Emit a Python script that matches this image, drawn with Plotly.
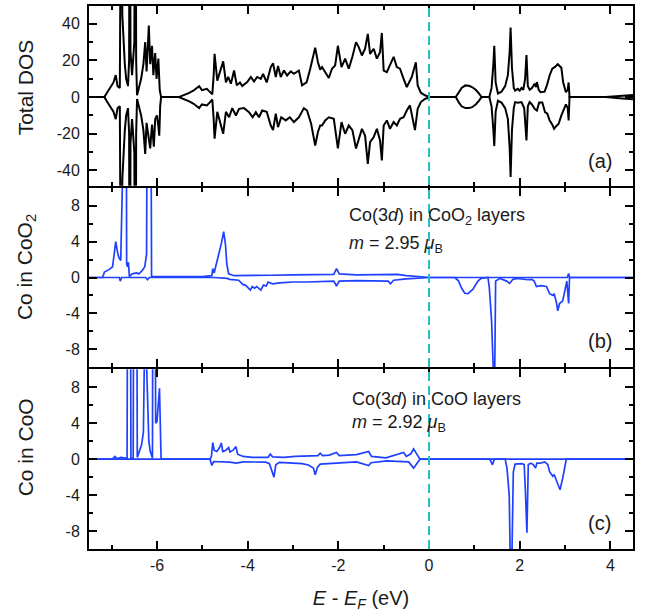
import plotly.graph_objects as go
from plotly.subplots import make_subplots

# ---------------- Total DOS (panel a) ----------------
tot_up_e = [-7.5, -7.16, -7.10, -7.03, -6.96, -6.91, -6.87, -6.82, -6.795, -6.78, -6.765, -6.74, -6.71,
            -6.68, -6.64, -6.615, -6.60, -6.585, -6.55, -6.50, -6.475, -6.46, -6.44, -6.40, -6.35, -6.30,
            -6.26, -6.23, -6.18, -6.15, -6.11, -6.08, -6.04, -6.01, -5.97, -5.94, -5.91, -5.52, -5.40,
            -5.30, -5.20, -5.12, -5.07, -5.01, -4.95, -4.90, -4.84, -4.78, -4.75, -4.73, -4.67, -4.59,
            -4.54, -4.48, -4.43, -4.37, -4.30, -4.24, -4.17, -4.12, -4.01, -3.93, -3.86, -3.79, -3.71,
            -3.66, -3.58, -3.49, -3.44, -3.38, -3.33, -3.27, -3.20, -3.13, -3.05, -2.98, -2.87, -2.80,
            -2.70, -2.62, -2.51, -2.45, -2.40, -2.36, -2.29, -2.21, -2.14, -2.07, -2.01, -1.93, -1.85,
            -1.77, -1.69, -1.61, -1.55, -1.48, -1.41, -1.35, -1.30, -1.22, -1.15, -1.08, -1.04, -1.00,
            -0.93, -0.86, -0.78, -0.71, -0.64, -0.56, -0.49, -0.38, -0.29, -0.25, -0.18, -0.09, 0.02,
            0.59, 0.66, 0.72, 0.80, 0.88, 0.95, 1.03, 1.10, 1.16, 1.33, 1.38, 1.42, 1.44, 1.47, 1.52,
            1.60, 1.68, 1.74, 1.78, 1.80, 1.83, 1.87, 1.90, 1.96, 2.00, 2.04, 2.08, 2.12, 2.15, 2.18,
            2.22, 2.27, 2.33, 2.36, 2.38, 2.42, 2.46, 2.55, 2.60, 2.66, 2.72, 2.78, 2.84, 2.88, 2.92,
            2.96, 3.02, 3.06, 3.08, 3.10, 3.90, 4.20, 4.50]
tot_up = [0, 0, 2.5, 5, 8, 12, 6, 5, 40, 200, 45, 30, 18,
          10, 6, 20, 200, 25, 12, 30, 200, 20, 1, 5, 10, 18,
          30, 14, 39, 18, 28, 12, 24, 10, 21, 4, 0, 0, 1.0,
          2.2, 3.5, 5.0, 6.0, 3.8, 4.2, 4.5, 3.0, 1.5, 12, 23.6, 9, 16,
          19.5, 8, 11, 7.3, 14.5, 6.4, 8, 6, 8.2, 11, 8.5, 11, 10,
          12.7, 8, 16.4, 18.5, 11, 17, 11, 14.5, 11.8, 14, 12.7, 14.5, 6.4,
          8, 15.5, 27, 19, 15, 16.4, 13.6, 10.4, 15.5, 17.3, 28, 16.4, 21,
          15.5, 22, 30, 27.3, 22.7, 26.4, 34.5, 23.6, 26.4, 21, 24.5, 35, 14.5,
          13.6, 17.3, 22, 16.4, 15.5, 10, 5.5, 11, 19, 6.4, 2.4, 1, 0,
          0, 3, 5, 6.4, 6.2, 5.5, 4, 2, 0, 0, 5, 18, 28, 8, 2,
          3, 6, 12, 25, 38, 16, 5, 3.6, 4.5, 3.5, 5, 4, 10, 23, 6,
          4, 5, 7.3, 5.5, 8.2, 4, 2.7, 3, 6.4, 11.8, 15.5, 16.5, 18, 17, 16,
          8, 2.7, 4, 8, 0, 0, 0.6, 1.2]

tot_dn_e = [-7.5, -7.16, -7.10, -7.03, -6.96, -6.91, -6.87, -6.82, -6.795, -6.78, -6.765, -6.74, -6.71,
            -6.68, -6.64, -6.615, -6.60, -6.585, -6.55, -6.50, -6.475, -6.46, -6.44, -6.40, -6.35, -6.30,
            -6.26, -6.23, -6.18, -6.15, -6.11, -6.07, -6.04, -6.00, -5.97, -5.95, -5.93, -5.91, -5.52,
            -5.40, -5.30, -5.20, -5.12, -5.07, -5.01, -4.95, -4.90, -4.84, -4.78, -4.75, -4.73, -4.67,
            -4.59, -4.54, -4.48, -4.41, -4.34, -4.26, -4.19, -4.08, -3.97, -3.89, -3.82, -3.75, -3.68,
            -3.58, -3.49, -3.44, -3.38, -3.33, -3.26, -3.16, -3.07, -2.98, -2.87, -2.76, -2.69, -2.60,
            -2.51, -2.45, -2.40, -2.36, -2.29, -2.21, -2.10, -2.01, -1.93, -1.85, -1.77, -1.69, -1.61,
            -1.55, -1.48, -1.41, -1.35, -1.30, -1.22, -1.15, -1.08, -1.04, -1.00, -0.93, -0.86, -0.78,
            -0.71, -0.64, -0.56, -0.49, -0.42, -0.31, -0.25, -0.18, -0.09, 0.02,
            0.59, 0.66, 0.72, 0.80, 0.88, 0.95, 1.03, 1.10, 1.16, 1.33, 1.38, 1.42, 1.44, 1.47, 1.52,
            1.60, 1.68, 1.74, 1.78, 1.80, 1.83, 1.87, 1.90, 1.96, 2.04, 2.10, 2.13, 2.15, 2.18, 2.22,
            2.27, 2.33, 2.38, 2.43, 2.50, 2.56, 2.61, 2.66, 2.72, 2.76, 2.80, 2.86, 2.92, 2.97, 3.02,
            3.06, 3.08, 3.10, 3.90, 4.20, 4.50]
tot_dn = [0, 0, -2.5, -5, -8, -12, -6, -5, -40, -200, -45, -30, -18,
          -10, -6, -20, -200, -25, -12, -30, -200, -20, -1, -5, -10, -18,
          -31, -14, -25, -28, -15, -27, -12, -10, -16, -21, -5, 0, 0,
          -1, -2.2, -3.5, -5, -6, -4, -4.3, -4.5, -3, -1.3, -12, -22.7, -8,
          -15.5, -20, -8, -11, -6, -10, -6.4, -6, -8.2, -11, -8.2, -11, -7.3,
          -8, -15.5, -18, -9, -16.4, -11, -12.7, -11, -13.6, -11, -6, -7.3, -14.5,
          -26.4, -19, -15.5, -15.5, -12.7, -11, -11.8, -28, -13.6, -20, -15.5, -18, -28,
          -22.7, -17.3, -21, -36.4, -24.5, -21.8, -17.3, -23.6, -34.5, -15.5, -12.7, -17.3, -13.6,
          -15.5, -11.8, -11, -7.3, -4.5, -18, -6.4, -2.7, -1, 0,
          0, -3, -5, -6, -6, -5.5, -4, -2, 0, 0, -5, -18, -26.7, -8, -2,
          -3, -6, -12, -28, -43.6, -18, -6, -2.7, -3, -2.7, -6, -15, -23.6, -5, -2.7,
          -4, -6.4, -7.3, -3, -3, -8.2, -9, -12.7, -15, -17.3, -16, -14.5, -10, -6.4, -4,
          -6, -12.7, 0, 0, -0.6, -1.2]

# ---------------- Co(3d) in CoO2 layers (panel b) ----------------
coo2_up_e = [-7.5, -7.2, -7.16, -7.05, -6.98, -6.94, -6.91, -6.87, -6.84, -6.80, -6.79, -6.74, -6.68,
             -6.67, -6.65, -6.63, -6.61, -6.55, -6.45, -6.40, -6.32, -6.27, -6.23, -6.21, -6.14, -6.12,
             -5.0, -4.79, -4.77, -4.74, -4.68, -4.62, -4.58, -4.53, -4.49, -4.46, -4.42, -4.3, -4.0,
             -3.5, -3.0, -2.5, -2.10, -2.04, -1.98, -1.6, -1.3, -0.9, -0.85, -0.7, -0.5, -0.2, 0.02,
             3.05, 3.08, 3.10, 4.5]
coo2_up = [0, 0, 0.6, 0.9, 1.2, 2.6, 4.0, 2.8, 2.2, 1.9, 30, 30, 30,
           1.5, 1.2, 1.7, 0.1, 0.4, 0.5, 0.4, 0.8, 1.2, 2.6, 30, 30, 0.1,
           0.1, 0.2, 1.0, 0.5, 1.7, 3.0, 3.8, 5.1, 3.7, 1.5, 0.4, 0.2, 0.2,
           0.25, 0.3, 0.35, 0.35, 1.0, 0.4, 0.3, 0.3, 0.35, 0.3, 0.35, 0.2, 0.05, 0,
           0, 0.45, 0, 0]

coo2_dn_e = [-7.5, -6.83, -6.81, -6.78, -6.25, -6.21, -6.17, -5.2, -4.75, -4.45, -4.40, -4.2, -4.1,
             -4.05, -3.99, -3.94, -3.90, -3.85, -3.80, -3.75, -3.71, -3.65, -3.59, -3.55, -3.45, -3.30,
             -3.0, -2.7, -2.4, -2.10, -2.04, -1.98, -1.6, -1.3, -0.9, -0.85, -0.78, -0.5, -0.2, 0.02,
             0.57, 0.65, 0.72, 0.79, 0.86, 0.97, 1.08, 1.15, 1.30, 1.33, 1.38, 1.42, 1.45, 1.47, 1.57,
             1.71, 1.78, 1.85, 1.95, 2.18, 2.27, 2.32, 2.37, 2.47, 2.59, 2.66, 2.73, 2.76, 2.81, 2.84,
             2.88, 2.95, 3.04, 3.08, 3.10, 4.5]
coo2_dn = [0, 0, -0.4, 0, 0, -0.25, 0, -0.05, 0, -0.1, -0.2, -0.3, -0.8,
           -0.85, -1.2, -1.4, -1.0, -1.2, -1.0, -1.2, -1.4, -0.85, -0.95, -0.5, -0.7, -0.6,
           -0.5, -0.5, -0.45, -0.4, -0.95, -0.4, -0.35, -0.37, -0.4, -0.7, -0.3, -0.15, -0.05, 0,
           0, -0.37, -1.2, -1.76, -1.8, -1.3, -0.4, -0.1, 0, -1.1, -4.8, -10.5, -10.5, -0.4, -0.1,
           -0.4, -0.66, -0.2, -0.1, -0.25, -0.2, -0.4, -1.0, -0.9, -1.0, -1.8, -2.0, -1.8, -2.75, -3.7,
           -2.9, -2.6, -0.4, -2.9, 0, 0]

# ---------------- Co(3d) in CoO layers (panel c) ----------------
coo_up_e = [-7.5, -6.98, -6.93, -6.88, -6.80, -6.70, -6.66, -6.645, -6.59, -6.575, -6.525, -6.51, -6.45,
            -6.435, -6.40, -6.34, -6.30, -6.28, -6.255, -6.23, -6.20, -6.18, -6.15, -6.12, -6.10, -6.09,
            -6.045, -6.03, -6.00, -5.945, -5.925, -5.91, -4.83, -4.80, -4.77, -4.74, -4.68, -4.62, -4.58,
            -4.55, -4.48, -4.42, -4.39, -4.32, -4.26, -4.22, -4.1, -3.9, -3.55, -3.50, -3.45, -3.2,
            -2.95, -2.66, -2.45, -2.40, -2.35, -2.2, -2.04, -1.98, -1.6, -1.33, -1.27, -0.95, -0.56,
            -0.50, -0.40, -0.34, -0.28, -0.2, 4.5]
coo_up = [0, 0, 0.3, 0.05, 0.2, 0.1, 0.1, 30, 30, 0.1, 0.1, 30, 30,
          0.2, 0.8, 1.6, 3, 10.5, 20, 10.5, 3, 2.0, 0.9, 0.3, 0.1, 30,
          30, 4.0, 4.2, 7.9, 0.1, 0, 0, 0.3, 1.85, 1.0, 0.85, 1.3, 1.8,
          0.85, 1.0, 1.3, 0.8, 1.0, 1.4, 0.55, 0.3, 0.2, 0.2, 0.55, 0.25, 0.2,
          0.3, 0.35, 0.4, 0.66, 0.4, 0.45, 0.75, 0.4, 0.5, 0.85, 0.3, 0.15, 0.75,
          0.3, 0.6, 1.15, 0.6, 0, 0]

coo_dn_e = [-7.5, -4.83, -4.79, -4.75, -4.40, -4.25, -4.1, -3.6, -3.52, -3.47, -3.42, -3.38, -3.3,
            -3.0, -2.80, -2.66, -2.55, -2.51, -2.46, -2.40, -2.2, -1.96, -1.6, -1.33, -1.28, -0.93,
            -0.6, -0.45, -0.34, -0.25, -0.2, 1.34, 1.40, 1.44, 1.68, 1.72, 1.77, 1.79, 1.83, 1.86,
            1.90, 2.05, 2.10, 2.13, 2.16, 2.19, 2.25, 2.30, 2.35, 2.38, 2.45, 2.55, 2.62, 2.66, 2.73,
            2.76, 2.84, 2.89, 2.95, 3.01, 3.03, 4.5]
coo_dn = [0, 0, -0.7, -0.26, -0.33, -0.44, -0.3, -0.33, -0.5, -1.4, -2.0, -0.63, -0.35,
          -0.45, -0.5, -0.65, -1.0, -1.74, -0.9, -0.55, -0.5, -0.45, -0.3, -0.7, -0.4, -0.2,
          -0.25, -0.3, -1.0, -0.3, 0, 0, -0.63, 0, 0, -1.0, -4.0, -10.5, -10.5, -1.4,
          -0.55, -0.5, -0.6, -4.0, -8.2, -0.6, -0.45, -0.6, -1.0, -0.45, -0.45, -0.3, -0.6, -1.4, -1.9,
          -1.7, -2.7, -3.4, -2.1, -0.2, 0, 0]

# axis tick values (labels use a plain hyphen for negatives)
e_ticks = [-6, -4, -2, 0, 2, 4]
tot_ticks = [-40, -20, 0, 20, 40]
pdos_ticks = [-8, -4, 0, 4, 8]


def labels(vals):
    return [str(v) for v in vals]


# ---------------- styling ----------------
FONT = "Liberation Sans, Arial, Helvetica, sans-serif"
INK = "#1a1a1a"
BLUE = "#2040ff"
BLACK = "#000000"
FERMI = "#22bfc4"
LW = 2.0

# a gap of one line width lets the frame lines of neighbouring panels coincide
fig = make_subplots(rows=3, cols=1, shared_xaxes=True, vertical_spacing=LW / 545)

curves = [
    (1, tot_up_e, tot_up, BLACK, 2.0),
    (1, tot_dn_e, tot_dn, BLACK, 2.0),
    (2, coo2_up_e, coo2_up, BLUE, 1.7),
    (2, coo2_dn_e, coo2_dn, BLUE, 1.7),
    (3, coo_up_e, coo_up, BLUE, 1.7),
    (3, coo_dn_e, coo_dn, BLUE, 1.7),
]
for row, e, d, col, w in curves:
    fig.add_trace(go.Scatter(x=e, y=d, mode="lines", line=dict(color=col, width=w),
                             showlegend=False, hoverinfo="skip"), row=row, col=1)

axis_common = dict(showline=True, linecolor=BLACK, linewidth=LW, mirror="ticks",
                   ticks="inside", ticklen=8, tickwidth=1.5, tickcolor=BLACK,
                   showgrid=False, zeroline=False,
                   tickfont=dict(family=FONT, size=16, color=INK))

for r in (1, 2, 3):
    fig.update_xaxes(range=[-7.5, 4.5], tickvals=e_ticks, ticktext=labels(e_ticks),
                     minor=dict(ticks="inside", tickvals=[-7, -5, -3, -1, 1, 3], ticklen=4,
                                tickwidth=1.5, tickcolor=BLACK),
                     showticklabels=(r == 3), ticklabelstandoff=1, row=r, col=1, **axis_common)

fig.update_yaxes(range=[-48.3, 49.7], tickvals=tot_ticks, ticktext=labels(tot_ticks),
                 minor=dict(ticks="inside", tickvals=[-30, -10, 10, 30], ticklen=4, tickwidth=1.5,
                            tickcolor=BLACK),
                 ticklabelstandoff=4, row=1, col=1, **axis_common)
for r in (2, 3):
    fig.update_yaxes(range=[-10, 10], tickvals=pdos_ticks, ticktext=labels(pdos_ticks),
                     minor=dict(ticks="inside", tickvals=[-6, -2, 2, 6], ticklen=4, tickwidth=1.5,
                                tickcolor=BLACK),
                     ticklabelstandoff=4, row=r, col=1, **axis_common)

fig.update_xaxes(title=dict(text="<i>E</i> - <i>E</i><sub><i>F</i></sub> (eV)",
                            font=dict(family=FONT, size=20, color=INK), standoff=18), row=3, col=1)

# Fermi level
fig.add_shape(type="line", xref="x", yref="paper", x0=0, x1=0, y0=0, y1=1,
              line=dict(color=FERMI, width=2, dash="9px,5px"), layer="above")

ann = []
# y-axis titles
for text, y in [("Total DOS", 0.850), ("Co in CoO<sub>2</sub>", 0.519), ("Co in CoO", 0.187)]:
    ann.append(dict(text=text, xref="paper", yref="paper", x=-0.116, y=y, textangle=-90,
                    showarrow=False, xanchor="center", yanchor="middle",
                    font=dict(family=FONT, size=21, color=INK)))
# panel notes
for text, x, y in [("Co(3<i>d</i>) in CoO<sub>2</sub> layers", 0.4737, 0.613),
                   ("<i>m</i> = 2.95 <i>μ</i><sub>B</sub>", 0.4737, 0.5615),
                   ("Co(3<i>d</i>) in CoO layers", 0.4798, 0.277),
                   ("<i>m</i> = 2.92 <i>μ</i><sub>B</sub>", 0.4798, 0.2312)]:
    ann.append(dict(text=text, xref="paper", yref="paper", x=x, y=y, showarrow=False,
                    xanchor="left", yanchor="middle", font=dict(family=FONT, size=18, color=INK)))
for text, y in [("(a)", 0.7138), ("(b)", 0.3835), ("(c)", 0.0477)]:
    ann.append(dict(text=text, xref="paper", yref="paper", x=0.939, y=y, showarrow=False,
                    xanchor="center", yanchor="middle", font=dict(family=FONT, size=20, color=INK)))

fig.update_layout(width=651, height=614, margin=dict(l=89, r=18, t=4, b=65),
                  plot_bgcolor="white", paper_bgcolor="white", annotations=ann,
                  font=dict(family=FONT, color=INK))

fig.write_html("out.html")
